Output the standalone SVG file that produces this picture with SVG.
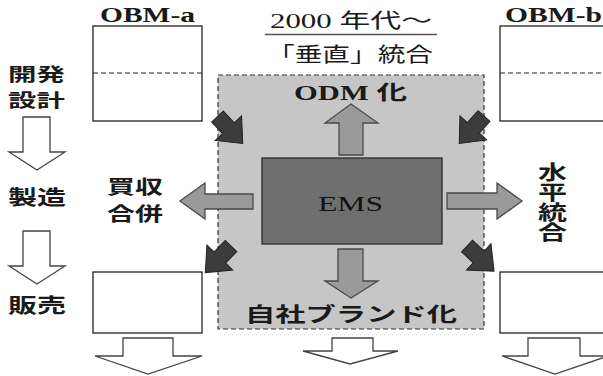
<svg xmlns="http://www.w3.org/2000/svg" xmlns:xlink="http://www.w3.org/1999/xlink" width="603" height="376" viewBox="0 0 603 376">
<style>
.box{fill:#fff;stroke:#222;stroke-width:1.3}
.div{stroke:#222;stroke-width:1.2;stroke-dasharray:5,3;fill:none}
.hollow{fill:#fff;stroke:#444;stroke-width:1.3;stroke-linejoin:miter}
.garr{fill:#9a9a9a;stroke:#4a4a4a;stroke-width:1.3}
.darr{fill:#3c3c3c;stroke:#222;stroke-width:1}
.lat{font-family:"Liberation Serif","Noto Sans CJK JP",serif;fill:#1a1a1a}
.cjk{font-family:"Noto Sans CJK JP",sans-serif;fill:#1a1a1a}
.b{font-weight:bold}
</style>
<defs>
<path id="dark" d="M0,-8 L16,-8 L16,-18 L37,0 L16,18 L16,8 L0,8 Z"/>
</defs>
<rect width="603" height="376" fill="#fff"/>

<g id="region">
<rect x="218" y="75" width="266" height="254" fill="#c6c6c6" stroke="#333" stroke-width="1.2" stroke-dasharray="5,3"/>
</g>

<g id="header">
<text class="lat" x="270" y="28" font-size="20" textLength="162" lengthAdjust="spacingAndGlyphs">2000 年代～</text>
<line x1="265" y1="34.5" x2="437" y2="34.5" stroke="#555" stroke-width="1.5"/>
<text class="cjk" x="267" y="62" font-size="20" textLength="166" lengthAdjust="spacingAndGlyphs">「垂直」統合</text>
</g>

<g id="obm-a">
<text class="lat b" x="100" y="22" font-size="20" textLength="95" lengthAdjust="spacingAndGlyphs">OBM-a</text>
<rect class="box" x="93" y="26" width="109" height="95"/>
<line class="div" x1="93" y1="73" x2="202" y2="73"/>
</g>

<g id="obm-b">
<text class="lat b" x="505" y="22" font-size="20" textLength="97" lengthAdjust="spacingAndGlyphs">OBM-b</text>
<rect class="box" x="500" y="26" width="110" height="95"/>
<line class="div" x1="500" y1="73" x2="610" y2="73"/>
</g>

<g id="sales-a">
<rect class="box" x="93" y="272" width="109" height="61"/>
</g>
<g id="sales-b">
<rect class="box" x="500" y="272" width="110" height="61"/>
</g>

<g id="ems">
<rect x="262" y="158" width="180" height="86" fill="#6f6f6f" stroke="#2a2a2a" stroke-width="1.3"/>
<text class="lat" x="318" y="211" font-size="22" textLength="65" lengthAdjust="spacingAndGlyphs" style="fill:#111">EMS</text>
</g>

<g id="labels">
<text class="lat b" x="294" y="100" font-size="20" textLength="113" lengthAdjust="spacingAndGlyphs">ODM 化</text>
<text class="cjk b" x="245" y="322" font-size="20" textLength="212" lengthAdjust="spacingAndGlyphs">自社ブランド化</text>
<text class="cjk b" font-size="19" transform="translate(107,0) scale(1.47,1)"><tspan x="0" y="194">買収</tspan><tspan x="0" y="221">合併</tspan></text>
<text class="cjk b" x="0" y="0" font-size="20" transform="translate(552.5,162) scale(1.45,1)" style="writing-mode:vertical-rl">水平統合</text>
</g>

<g id="stages">
<text class="cjk b" font-size="18" transform="translate(8,0) scale(1.58,1)"><tspan x="0" y="81">開発</tspan><tspan x="0" y="107">設計</tspan></text>
<text class="cjk b" x="8" y="205" font-size="20" textLength="58" lengthAdjust="spacingAndGlyphs">製造</text>
<text class="cjk b" x="8" y="313" font-size="20" textLength="58" lengthAdjust="spacingAndGlyphs">販売</text>
</g>

<g id="connectors">
<polygon class="hollow" points="23,117 50,117 50,152 65,152 37,170 9,152 23,152"/>
<polygon class="hollow" points="23,231 50,231 50,266 65,266 37,284 9,266 23,266"/>
<polygon class="hollow" points="123,338 173,338 173,356 202,356 148,374 95,356 123,356"/>
<polygon class="hollow" points="332,338 373,338 373,351 398,351 350,364 303,351 332,351"/>
<polygon class="hollow" points="528,338 580,338 580,356 608,356 555,374 502,356 528,356"/>

<polygon class="garr" points="339,155 363,155 363,123 378,123 351,104 325,123 339,123"/>
<polygon class="garr" points="338,249 363,249 363,281 378,281 351,298 325,281 338,281"/>
<polygon class="garr" points="253,194 253,209 205,209 205,219 180,201 205,183 205,194"/>
<polygon class="garr" points="447,193 447,209 497,209 497,219 522,201 497,183 497,193"/>

<use xlink:href="#dark" class="darr" transform="translate(217.5,116.5) rotate(47)"/>
<use xlink:href="#dark" class="darr" transform="translate(484,116) rotate(132)"/>
<use xlink:href="#dark" class="darr" transform="translate(231,246) rotate(134)"/>
<use xlink:href="#dark" class="darr" transform="translate(467,246) rotate(43)"/>
</g>
</svg>
